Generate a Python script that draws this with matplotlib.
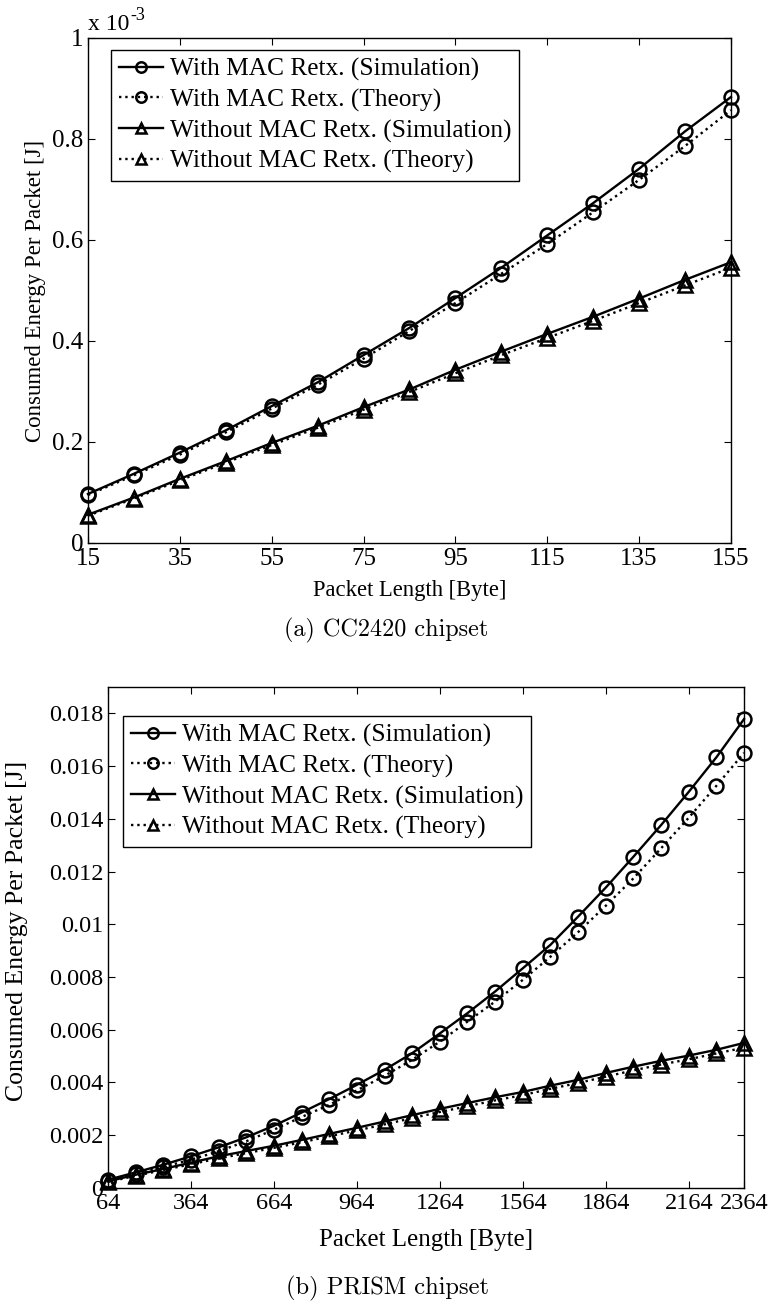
import matplotlib
matplotlib.use("Agg")
import matplotlib.pyplot as plt

plt.rcParams['font.family'] = ['Liberation Serif', 'DejaVu Serif']

# CC2420 chipset (values in units of 1e-3 J)
len_cc = [15, 25, 35, 45, 55, 65, 75, 85, 95, 105, 115, 125, 135, 145, 155]
cc_mac_sim = [0.097, 0.137, 0.179, 0.223, 0.271, 0.318, 0.372, 0.426, 0.485, 0.545, 0.609, 0.673, 0.741, 0.815, 0.883]
cc_mac_th = [0.095, 0.134, 0.175, 0.219, 0.266, 0.313, 0.365, 0.420, 0.475, 0.533, 0.592, 0.655, 0.719, 0.786, 0.857]
cc_nomac_sim = [0.056, 0.090, 0.127, 0.162, 0.198, 0.232, 0.269, 0.304, 0.343, 0.379, 0.414, 0.448, 0.484, 0.521, 0.556]
cc_nomac_th = [0.054, 0.088, 0.124, 0.159, 0.194, 0.228, 0.264, 0.299, 0.336, 0.372, 0.406, 0.440, 0.475, 0.510, 0.545]

# PRISM chipset (J)
len_pr = [64, 164, 264, 364, 464, 564, 664, 764, 864, 964, 1064, 1164,
          1264, 1364, 1464, 1564, 1664, 1764, 1864, 1964, 2064, 2164, 2264, 2364]
pr_mac_sim = [0.00031, 0.00059, 0.00088, 0.00120, 0.00154, 0.00192, 0.00236, 0.00286,
              0.00337, 0.00391, 0.00448, 0.00511, 0.00586, 0.00663, 0.00745, 0.00833,
              0.00922, 0.01029, 0.01139, 0.01256, 0.01376, 0.01502, 0.01633, 0.01778]
pr_mac_th = [0.00028, 0.00054, 0.00080, 0.00107, 0.00139, 0.00177, 0.00221, 0.00269,
             0.00315, 0.00370, 0.00425, 0.00486, 0.00555, 0.00631, 0.00707, 0.00789,
             0.00877, 0.00970, 0.01070, 0.01174, 0.01288, 0.01404, 0.01525, 0.01650]
pr_nomac_sim = [0.00025, 0.00050, 0.00072, 0.00096, 0.00120, 0.00140, 0.00160, 0.00182,
                0.00205, 0.00228, 0.00252, 0.00276, 0.00300, 0.00322, 0.00344, 0.00364,
                0.00388, 0.00410, 0.00436, 0.00460, 0.00482, 0.00502, 0.00524, 0.00550]
pr_nomac_th = [0.00023, 0.00046, 0.00068, 0.00090, 0.00112, 0.00132, 0.00152, 0.00173,
               0.00196, 0.00218, 0.00241, 0.00265, 0.00288, 0.00310, 0.00332, 0.00352,
               0.00376, 0.00398, 0.00422, 0.00446, 0.00468, 0.00488, 0.00510, 0.00532]

labels = ["With MAC Retx. (Simulation)", "With MAC Retx. (Theory)",
          "Without MAC Retx. (Simulation)", "Without MAC Retx. (Theory)"]

fig = plt.figure(figsize=(7.73, 13.04), dpi=100)


def draw(ax, x, series):
    styles = [('-', 'o'), (':', 'o'), ('-', '^'), (':', '^')]
    for y, (ls, mk), lab in zip(series, styles, labels):
        ax.plot(x, y, color='black', linestyle=ls, linewidth=1.7, marker=mk,
                markersize=10, markerfacecolor='none', markeredgewidth=1.8,
                label=lab, clip_on=False, zorder=3)
    ax.tick_params(direction='in', top=True, right=True, length=5, width=0.8)
    for s in ax.spines.values():
        s.set_linewidth(1.0)


def add_legend(ax, anchor, size):
    leg = ax.legend(loc='upper left', bbox_to_anchor=anchor, fontsize=size,
                    frameon=True, fancybox=False, edgecolor='black', framealpha=1,
                    handlelength=1.75, handletextpad=0.25, labelspacing=0.3,
                    borderpad=0.3, borderaxespad=0, markerscale=0.75)
    leg.get_frame().set_linewidth(1.0)


# top panel
ax1 = fig.add_axes([0.1138, 0.5836, 0.8318, 0.3873])
draw(ax1, len_cc, [cc_mac_sim, cc_mac_th, cc_nomac_sim, cc_nomac_th])
ax1.set_xlim(15, 155)
ax1.set_ylim(0, 1)
ax1.set_xticks(range(15, 156, 20))
ax1.set_yticks([0, 0.2, 0.4, 0.6, 0.8, 1])
ax1.set_yticklabels(['0', '0.2', '0.4', '0.6', '0.8', '1'])
ax1.tick_params(labelsize=18)
ax1.set_xlabel("Packet Length [Byte]", fontsize=16.3)
ax1.set_ylabel("Consumed Energy Per Packet [J]", fontsize=16.5)
ax1.xaxis.set_label_coords(0.5, -0.073)
ax1.yaxis.set_label_coords(-0.066, 0.5)
fig.text(88 / 773, 1 - 30 / 1304, "x 10", fontsize=17, ha='left', va='baseline')
fig.text(130 / 773, 1 - 20 / 1304, "-3", fontsize=13, ha='left', va='baseline')
add_legend(ax1, (0.036, 0.976), 18.3)
fig.text(386 / 773, 1 - 630 / 1304, "(a) CC2420 chipset", family='cmr10',
         fontsize=17.4, ha='center', va='center')

# bottom panel
ax2 = fig.add_axes([0.1397, 0.0890, 0.8228, 0.3842])
draw(ax2, len_pr, [pr_mac_sim, pr_mac_th, pr_nomac_sim, pr_nomac_th])
ax2.set_xlim(64, 2364)
ax2.set_ylim(0, 0.019)
ax2.set_xticks([64, 364, 664, 964, 1264, 1564, 1864, 2164, 2364])
yt = [0, 0.002, 0.004, 0.006, 0.008, 0.01, 0.012, 0.014, 0.016, 0.018]
ax2.set_yticks(yt)
ax2.set_yticklabels(['0', '0.002', '0.004', '0.006', '0.008', '0.01',
                     '0.012', '0.014', '0.016', '0.018'])
ax2.tick_params(labelsize=17.5)
ax2.set_xlabel("Packet Length [Byte]", fontsize=18)
ax2.set_ylabel("Consumed Energy Per Packet [J]", fontsize=18.5)
ax2.xaxis.set_label_coords(0.5, -0.082)
ax2.yaxis.set_label_coords(-0.126, 0.513)
add_legend(ax2, (0.024, 0.942), 18.3)
fig.text(387 / 773, 1 - 1288 / 1304, "(b) PRISM chipset", family='cmr10',
         fontsize=17.6, ha='center', va='center')

fig.savefig("out.png", dpi=100)
